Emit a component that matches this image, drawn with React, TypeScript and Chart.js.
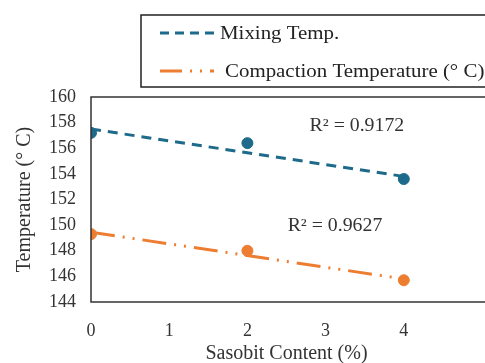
import React, { useEffect, useRef } from "react";
import { Chart, registerables } from "chart.js";

Chart.register(...registerables);

const sasobit = [0, 2, 4];
const mixingTemp = [157.2, 156.4, 153.6];
const compactionTemp = [149.3, 148.0, 145.7];
const trendX = [0, 4];
const mixingTrend = [157.5, 153.8];
const compactionTrend = [149.45, 145.8];
const r2Labels = ["R² = 0.9172", "R² = 0.9627"];
const r2AnchorX = [3.4, 3.12];
const r2AnchorY = [157.75, 149.9];
const seriesNames = ["Mixing Temp.", "Compaction Temperature (° C)"];

const BLUE = "#1d6a8a";
const ORANGE = "#ed7d31";
const FONT = "'Liberation Serif', 'Times New Roman', serif";
const STRETCH = 1.1;

function stretchedText(ctx: any, text: string, x: number, y: number, align: string) {
  ctx.save();
  ctx.translate(x, y);
  ctx.scale(STRETCH, 1);
  ctx.textAlign = align;
  ctx.fillText(text, 0, 0);
  ctx.restore();
}

const legendPlugin = {
  id: "boxLegend",
  afterDraw(chart: any) {
    const ctx = chart.ctx;
    ctx.save();
    ctx.strokeStyle = "#222";
    ctx.lineWidth = 1.5;
    ctx.strokeRect(141, 15, 400, 72);
    ctx.font = `19px ${FONT}`;
    ctx.fillStyle = "#222";
    ctx.textBaseline = "middle";
    // row 1
    ctx.strokeStyle = BLUE;
    ctx.lineWidth = 3;
    ctx.setLineDash([9, 6]);
    ctx.beginPath();
    ctx.moveTo(160, 33);
    ctx.lineTo(216, 33);
    ctx.stroke();
    stretchedText(ctx, seriesNames[0], 220, 34, "left");
    // row 2
    ctx.strokeStyle = ORANGE;
    ctx.setLineDash([22, 8, 2, 8, 2, 8]);
    ctx.beginPath();
    ctx.moveTo(160, 71);
    ctx.lineTo(214, 71);
    ctx.stroke();
    ctx.setLineDash([]);
    stretchedText(ctx, seriesNames[1], 225, 72, "left");
    // R2 labels
    const xs = chart.scales.x;
    const ys = chart.scales.y;
    ctx.font = `18px ${FONT}`;
    ctx.fillStyle = "#333";
    r2Labels.forEach((t, i) => {
      stretchedText(ctx, t, xs.getPixelForValue(r2AnchorX[i]), ys.getPixelForValue(r2AnchorY[i]), "center");
    });
    // frame lines
    const a = chart.chartArea;
    ctx.strokeStyle = "#333";
    ctx.lineWidth = 1.5;
    ctx.beginPath();
    ctx.moveTo(a.right + 5, a.top);
    ctx.lineTo(a.left, a.top);
    ctx.lineTo(a.left, a.bottom);
    ctx.lineTo(a.right + 5, a.bottom);
    ctx.stroke();
    ctx.restore();
  },
};

export default function App() {
  const ref = useRef<HTMLCanvasElement>(null);
  useEffect(() => {
    document.body.style.margin = "0";
    document.body.style.overflow = "hidden";
    const chart = new Chart(ref.current!, {
      type: "scatter",
      data: {
        datasets: [
          {
            label: seriesNames[0],
            data: trendX.map((x, i) => ({ x, y: mixingTrend[i] })),
            showLine: true,
            borderColor: BLUE,
            borderWidth: 3,
            borderDash: [10, 7],
            pointRadius: 0,
          },
          {
            label: seriesNames[1],
            data: trendX.map((x, i) => ({ x, y: compactionTrend[i] })),
            showLine: true,
            borderColor: ORANGE,
            borderWidth: 3,
            borderDash: [24, 8, 2, 8, 2, 8],
            pointRadius: 0,
          },
          {
            label: "mixPts",
            data: sasobit.map((x, i) => ({ x, y: mixingTemp[i] })),
            backgroundColor: BLUE,
            borderColor: BLUE,
            pointRadius: 5.5,
          },
          {
            label: "compPts",
            data: sasobit.map((x, i) => ({ x, y: compactionTemp[i] })),
            backgroundColor: ORANGE,
            borderColor: ORANGE,
            pointRadius: 5.5,
          },
        ],
      },
      options: {
        responsive: false,
        animation: false,
        layout: { padding: { top: 97, right: 8, left: 0, bottom: 0 } },
        plugins: { legend: { display: false }, tooltip: { enabled: false } },
        scales: {
          x: {
            type: "linear",
            min: 0,
            max: 5,
            grid: { display: false, drawTicks: false },
            border: { display: false },
            ticks: {
              stepSize: 1,
              padding: 18,
              color: "#333",
              font: { family: FONT, size: 18 },
              callback: (v: any) => (v === 5 ? "" : String(v)),
            },
            title: {
              display: true,
              text: "Sasobit Content (%)",
              color: "#333",
              font: { family: FONT, size: 20 },
              padding: { top: 0, bottom: -3 },
            },
            afterFit: (s: any) => {
              s.height = 61;
            },
          },
          y: {
            min: 144,
            max: 160,
            grid: { display: false, drawTicks: false },
            border: { display: false },
            ticks: {
              stepSize: 2,
              padding: 15,
              color: "#333",
              font: { family: FONT, size: 18 },
            },
            title: {
              display: true,
              text: "Temperature (° C)",
              color: "#333",
              font: { family: FONT, size: 20 },
              padding: { top: 13, bottom: 0 },
            },
            afterFit: (s: any) => {
              s.width = 91;
            },
          },
        },
      },
      plugins: [legendPlugin],
    });
    return () => chart.destroy();
  }, []);
  return (
    <div style={{ position: "fixed", left: 0, top: 0, width: 485, height: 363, overflow: "hidden", background: "#fff" }}>
      <canvas ref={ref} width={500} height={363} />
    </div>
  );
}
